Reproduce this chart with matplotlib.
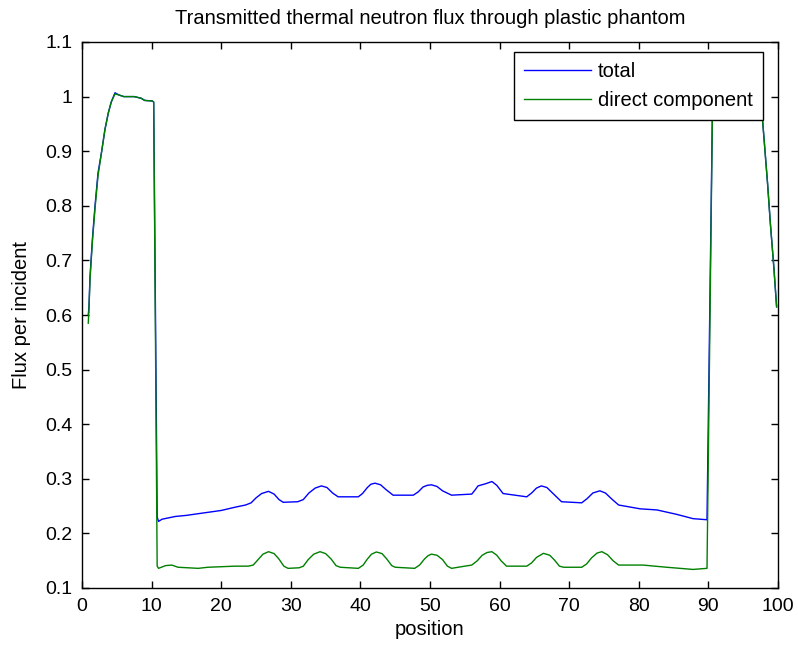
import matplotlib
matplotlib.use("Agg")
import matplotlib.pyplot as plt

# position / flux values
pos_total = [0.9, 1.0, 1.15, 1.5, 1.87, 2.3, 2.83, 3.3, 3.78, 4.2, 4.74, 5.3, 6.0, 7.5,
             8.5, 9.0, 10.1, 10.3, 10.8, 11.0, 11.5, 13.4, 15.0, 17.2, 20.0, 22.0, 23.5,
             24.3, 25.0, 25.8, 26.8, 27.6, 28.3, 28.9, 31.0, 31.8, 32.6, 33.5, 34.4, 35.2,
             36.0, 36.8, 39.7, 40.3, 41.0, 41.5, 42.1, 42.9, 43.7, 44.7, 47.6, 48.3, 49.0,
             49.6, 50.2, 51.0, 51.8, 53.1, 56.0, 56.5, 56.9, 58.0, 58.9, 59.6, 60.5, 63.9,
             64.6, 65.3, 66.0, 66.8, 67.6, 68.9, 71.8, 72.6, 73.4, 74.4, 75.2, 76.2, 77.1,
             80.2, 82.6, 85.4, 87.8, 89.8, 90.6, 91.5, 93.0, 95.0, 96.5, 97.3, 97.8, 98.5,
             98.9, 99.4, 99.8]
flux_total = [0.600, 0.615, 0.670, 0.740, 0.800, 0.860, 0.900, 0.940, 0.970, 0.990, 1.007,
              1.003, 1.000, 1.000, 0.997, 0.993, 0.992, 0.990, 0.230, 0.222, 0.226, 0.231,
              0.233, 0.237, 0.242, 0.248, 0.252, 0.256, 0.265, 0.273, 0.277, 0.272, 0.262,
              0.257, 0.258, 0.262, 0.274, 0.283, 0.287, 0.284, 0.274, 0.267, 0.267, 0.273,
              0.284, 0.290, 0.292, 0.289, 0.280, 0.270, 0.270, 0.276, 0.285, 0.288, 0.289,
              0.286, 0.278, 0.270, 0.272, 0.280, 0.287, 0.291, 0.295, 0.288, 0.273, 0.267,
              0.274, 0.283, 0.287, 0.284, 0.274, 0.258, 0.256, 0.264, 0.274, 0.278, 0.274,
              0.262, 0.252, 0.245, 0.243, 0.235, 0.227, 0.225, 0.995, 1.000, 1.003, 1.002,
              1.000, 0.990, 0.954, 0.841, 0.768, 0.688, 0.615]

pos_direct = [0.9, 1.0, 1.15, 1.5, 1.87, 2.3, 2.83, 3.3, 3.78, 4.2, 4.74, 5.3, 6.0, 7.5,
              8.5, 9.0, 10.1, 10.3, 10.8, 11.0, 12.0, 12.9, 13.8, 16.7, 18.1, 22.0, 23.9,
              24.6, 25.3, 26.0, 26.8, 27.6, 28.3, 29.0, 29.6, 31.2, 31.8, 32.5, 33.3, 34.2,
              35.0, 35.8, 36.5, 37.1, 39.7, 40.4, 41.0, 41.6, 42.3, 43.1, 43.8, 44.5, 45.0,
              47.8, 48.5, 49.2, 49.7, 50.2, 51.0, 51.8, 52.5, 53.1, 55.0, 56.0, 56.8, 57.5,
              58.2, 58.9, 59.6, 60.2, 61.0, 63.9, 64.6, 65.3, 66.3, 67.2, 67.9, 68.6, 69.2,
              71.8, 72.5, 73.2, 74.0, 74.7, 75.5, 76.3, 77.1, 80.6, 84.0, 87.8, 89.8, 90.6,
              91.5, 93.0, 95.0, 96.5, 97.3, 97.8, 98.5, 98.9, 99.4, 99.8]
flux_direct = [0.585, 0.610, 0.665, 0.735, 0.795, 0.855, 0.900, 0.940, 0.970, 0.990, 1.005,
               1.003, 1.000, 1.000, 0.997, 0.993, 0.992, 0.990, 0.140, 0.136, 0.141, 0.142,
               0.138, 0.136, 0.138, 0.140, 0.140, 0.142, 0.152, 0.162, 0.1665, 0.163, 0.153,
               0.140, 0.136, 0.137, 0.140, 0.152, 0.162, 0.1665, 0.163, 0.153, 0.141, 0.138,
               0.136, 0.142, 0.153, 0.162, 0.166, 0.163, 0.153, 0.141, 0.138, 0.136, 0.142,
               0.153, 0.159, 0.162, 0.160, 0.152, 0.140, 0.136, 0.140, 0.142, 0.150, 0.160,
               0.165, 0.1665, 0.160, 0.150, 0.140, 0.140, 0.146, 0.156, 0.1635, 0.160, 0.151,
               0.140, 0.138, 0.138, 0.144, 0.155, 0.164, 0.1665, 0.161, 0.150, 0.142, 0.142,
               0.138, 0.134, 0.136, 0.995, 1.000, 1.003, 1.002, 1.000, 0.990, 0.954, 0.841,
               0.768, 0.688, 0.615]

xticks = [0, 10, 20, 30, 40, 50, 60, 70, 80, 90, 100]
yticks = [0.1, 0.2, 0.3, 0.4, 0.5, 0.6, 0.7, 0.8, 0.9, 1.0, 1.1]
ytick_labels = ["0.1", "0.2", "0.3", "0.4", "0.5", "0.6", "0.7", "0.8", "0.9", "1", "1.1"]

plt.rcParams["font.family"] = ["Liberation Sans", "DejaVu Sans"]
plt.rcParams["font.size"] = 14.5

fig = plt.figure(figsize=(7.98, 6.49), dpi=100)
ax = fig.add_axes([82 / 798, 61 / 649, 696 / 798, 546 / 649])

ax.plot(pos_total, flux_total, color="#0000ff", linewidth=1.0, label="total")
ax.plot(pos_direct, flux_direct, color="#008000", linewidth=1.0, label="direct component")

ax.set_xlim(0, 100)
ax.set_ylim(0.1, 1.1)
ax.set_xticks(xticks)
ax.set_yticks(yticks)
ax.set_yticklabels(ytick_labels)
ax.tick_params(direction="in", top=True, right=True, length=5, width=1, labelsize=14)
ax.tick_params(axis="x", pad=7)
ax.tick_params(axis="y", pad=7)
for s in ax.spines.values():
    s.set_linewidth(1.0)

ax.set_title("Transmitted thermal neutron flux through plastic phantom", fontsize=14.5, pad=13)
ax.set_xlabel("position", fontsize=14.5, labelpad=4)
ax.set_ylabel("Flux per incident", fontsize=14.5, labelpad=10)

leg = ax.legend(loc="upper right", bbox_to_anchor=(0.978, 0.982), borderaxespad=0,
                fancybox=False, framealpha=1, edgecolor="black", fontsize=14.5,
                handlelength=3.3, handletextpad=0.35, borderpad=0.5, labelspacing=0.5)
leg.get_frame().set_linewidth(1.0)

fig.savefig("out.png", dpi=100, facecolor="white")
